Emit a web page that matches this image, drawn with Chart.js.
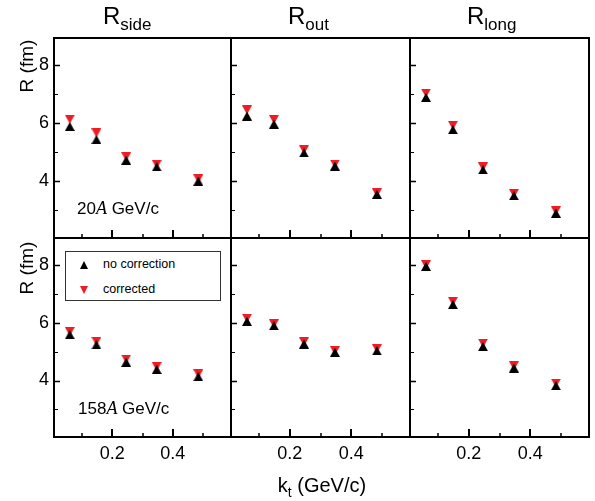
<!DOCTYPE html>
<html>
<head>
<meta charset="utf-8">
<script src="https://cdn.jsdelivr.net/npm/chart.js@4.4.1/dist/chart.umd.min.js"></script>
<style>
  html, body { margin: 0; padding: 0; background: #fff; }
  #fig {
    position: relative; width: 595px; height: 501px; overflow: hidden;
    font-family: "Liberation Sans", Arial, sans-serif; color: #000;
  }
  #fig canvas { position: absolute; left: 0; top: 0; }
  .txt { position: absolute; white-space: nowrap; line-height: 1; }
  .title { top: 4px; font-size: 24px; }
  .title .sub { font-size: 17px; vertical-align: -6px; }
  .ylab { left: 26px; font-size: 19px; transform: translate(-50%, -50%) rotate(-90deg); }
  .xlab { left: 322px; top: 475px; font-size: 20px; transform: translateX(-50%); }
  .xlab .sub { font-size: 14px; vertical-align: -5px; }
  .beam { font-size: 17px; }
  .beam i { font-family: "Liberation Serif", "Times New Roman", serif; font-size: 18px; }
  #legend {
    position: absolute; left: 65px; top: 251px; width: 154px; height: 48px;
    border: 1px solid #333; background: #fff; z-index: 5;
  }
  #legend .mk { position: absolute; left: 14px; width: 0; height: 0;
    border-left: 4.5px solid transparent; border-right: 4.5px solid transparent; }
  #legend .up { top: 9px; border-bottom: 8px solid #000; }
  #legend .down { top: 34px; border-top: 8px solid #ee1c25; }
  #legend .t1 { left: 37px; top: 6px; position: absolute; font-size: 12.5px; line-height: 1; }
  #legend .t2 { left: 37px; top: 31px; position: absolute; font-size: 12.5px; line-height: 1; }
</style>
</head>
<body>
<div id="fig">
  <div class="txt title" style="left:103px">R<span class="sub">side</span></div>
  <div class="txt title" style="left:288px">R<span class="sub">out</span></div>
  <div class="txt title" style="left:467px">R<span class="sub">long</span></div>
  <div class="txt ylab" style="top:66px">R (fm)</div>
  <div class="txt ylab" style="top:268px">R (fm)</div>
  <div class="txt xlab">k<span class="sub">t</span> (GeV/c)</div>
  <div class="txt beam" style="left:77px; top:199px">20<i>A</i> GeV/c</div>
  <div class="txt beam" style="left:78px; top:399px">158<i>A</i> GeV/c</div>
  <div id="legend">
    <div class="mk up"></div>
    <div class="mk down"></div>
    <div class="t1">no correction</div>
    <div class="t2">corrected</div>
  </div>
</div>
<script>
// pair transverse momentum bins (GeV/c)
const KT = [0.06, 0.148, 0.246, 0.347, 0.484];

// HBT radii (fm): raw fit vs. corrected, 20A GeV/c
const RSIDE_20_RAW  = [5.88, 5.43, 4.72, 4.49, 4.00];
const RSIDE_20_CORR = [6.13, 5.66, 4.84, 4.58, 4.08];
const ROUT_20_RAW   = [6.24, 5.96, 4.97, 4.52, 3.55];
const ROUT_20_CORR  = [6.45, 6.12, 5.08, 4.59, 3.60];
const RLONG_20_RAW  = [6.88, 5.77, 4.39, 3.50, 2.90];
const RLONG_20_CORR = [7.03, 5.92, 4.49, 3.58, 2.98];

// same at 158A GeV/c
const RSIDE_158_RAW  = [5.58, 5.23, 4.63, 4.38, 4.13];
const RSIDE_158_CORR = [5.69, 5.35, 4.74, 4.48, 4.23];
const ROUT_158_RAW   = [6.04, 5.89, 5.26, 4.97, 5.02];
const ROUT_158_CORR  = [6.15, 5.96, 5.34, 5.03, 5.10];
const RLONG_158_RAW  = [7.94, 6.62, 5.17, 4.43, 3.82];
const RLONG_158_CORR = [8.00, 6.73, 5.29, 4.51, 3.91];

// axis ticks
const X_MAJOR = [0.2, 0.4];
const X_MINOR = [0.1, 0.3, 0.5];
const Y_MAJOR = [4, 6, 8];
const Y_MINOR = [3, 5, 7];

const RED = '#ee1c25';
const W = 595, H = 501;
const COL_EDGES = [54, 231, 410, 589];
const ROW_EDGES = [38, 238, 437];
const Y_AXIS_W = 30;   // room for the 4/6/8 labels, left column only
const X_AXIS_H = 34;   // room for 0.2/0.4, bottom row only
const FONT = { family: '"Liberation Sans", Arial, sans-serif', size: 18 };

const panels = [
  { row: 0, col: 0, raw: RSIDE_20_RAW,  corr: RSIDE_20_CORR },
  { row: 0, col: 1, raw: ROUT_20_RAW,   corr: ROUT_20_CORR },
  { row: 0, col: 2, raw: RLONG_20_RAW,  corr: RLONG_20_CORR },
  { row: 1, col: 0, raw: RSIDE_158_RAW, corr: RSIDE_158_CORR },
  { row: 1, col: 1, raw: ROUT_158_RAW,  corr: ROUT_158_CORR },
  { row: 1, col: 2, raw: RLONG_158_RAW, corr: RLONG_158_CORR }
];

// triangle marker centred on its bounding box (built-in triangle is centred on the circumcentre)
function triangleMarker(color, down) {
  const w = 10, h = 9;
  const c = document.createElement('canvas');
  c.width = w; c.height = h;
  const g = c.getContext('2d');
  g.fillStyle = color;
  g.beginPath();
  if (down) {
    g.moveTo(0, 0); g.lineTo(w, 0); g.lineTo(w / 2, h);
  } else {
    g.moveTo(w / 2, 0); g.lineTo(w, h); g.lineTo(0, h);
  }
  g.closePath();
  g.fill();
  return c;
}
const UP_BLACK = triangleMarker('#000', false);
const DOWN_RED = triangleMarker(RED, true);

// inward ticks + frame around each panel
const panelFrame = {
  id: 'panelFrame',
  beforeDatasetsDraw(chart) {
    const { ctx, chartArea: a, scales: { x, y } } = chart;
    ctx.save();
    ctx.strokeStyle = '#000';
    const xTicks = (vals, len, lw) => {
      ctx.lineWidth = lw;
      ctx.beginPath();
      vals.forEach(v => {
        const px = Math.round(x.getPixelForValue(v));
        ctx.moveTo(px, a.bottom); ctx.lineTo(px, a.bottom - len);
      });
      ctx.stroke();
    };
    const yTicks = (vals, len, lw) => {
      ctx.lineWidth = lw;
      ctx.beginPath();
      vals.forEach(v => {
        const py = Math.round(y.getPixelForValue(v)) + 0.5;
        ctx.moveTo(a.left, py); ctx.lineTo(a.left + len, py);
      });
      ctx.stroke();
    };
    xTicks(X_MAJOR, 8, 2);
    xTicks(X_MINOR, 4, 1.5);
    yTicks(Y_MAJOR, 6, 1.5);
    yTicks(Y_MINOR, 4, 1.2);
    ctx.lineWidth = 2;
    ctx.strokeRect(a.left, a.top, a.right - a.left, a.bottom - a.top);
    ctx.restore();
  }
};

const fig = document.getElementById('fig');

panels.forEach(p => {
  const canvas = document.createElement('canvas');
  canvas.width = W;
  canvas.height = H;
  fig.insertBefore(canvas, fig.firstChild);

  const yw = p.col === 0 ? Y_AXIS_W : 0;
  const xh = p.row === 1 ? X_AXIS_H : 0;

  new Chart(canvas, {
    type: 'scatter',
    data: {
      datasets: [
        {
          label: 'no correction',
          data: KT.map((k, i) => ({ x: k, y: p.raw[i] })),
          pointStyle: UP_BLACK,
          pointRadius: 5
        },
        {
          label: 'corrected',
          data: KT.map((k, i) => ({ x: k, y: p.corr[i] })),
          pointStyle: DOWN_RED,
          pointRadius: 5
        }
      ]
    },
    options: {
      responsive: false,
      animation: false,
      devicePixelRatio: 1,
      layout: {
        padding: {
          left: COL_EDGES[p.col] - yw,
          right: W - COL_EDGES[p.col + 1],
          top: ROW_EDGES[p.row],
          bottom: H - ROW_EDGES[p.row + 1] - xh
        }
      },
      plugins: { legend: { display: false }, tooltip: { enabled: false } },
      scales: {
        x: {
          type: 'linear',
          min: 0.008,
          max: 0.592,
          grid: { display: false, drawTicks: false },
          border: { display: false },
          afterBuildTicks: s => { s.ticks = X_MAJOR.map(v => ({ value: v })); },
          afterFit: s => { s.height = xh; },
          ticks: {
            display: p.row === 1,
            maxRotation: 0,
            autoSkip: false,
            padding: 6,
            color: '#000',
            font: FONT,
            callback: v => v.toFixed(1)
          }
        },
        y: {
          type: 'linear',
          min: 2.05,
          max: 8.92,
          grid: { display: false, drawTicks: false },
          border: { display: false },
          afterBuildTicks: s => { s.ticks = Y_MAJOR.map(v => ({ value: v })); },
          afterFit: s => { s.width = yw; },
          ticks: {
            display: p.col === 0,
            autoSkip: false,
            padding: 5,
            color: '#000',
            font: FONT,
            callback: v => String(v)
          }
        }
      }
    },
    plugins: [panelFrame]
  });
});
</script>
</body>
</html>
